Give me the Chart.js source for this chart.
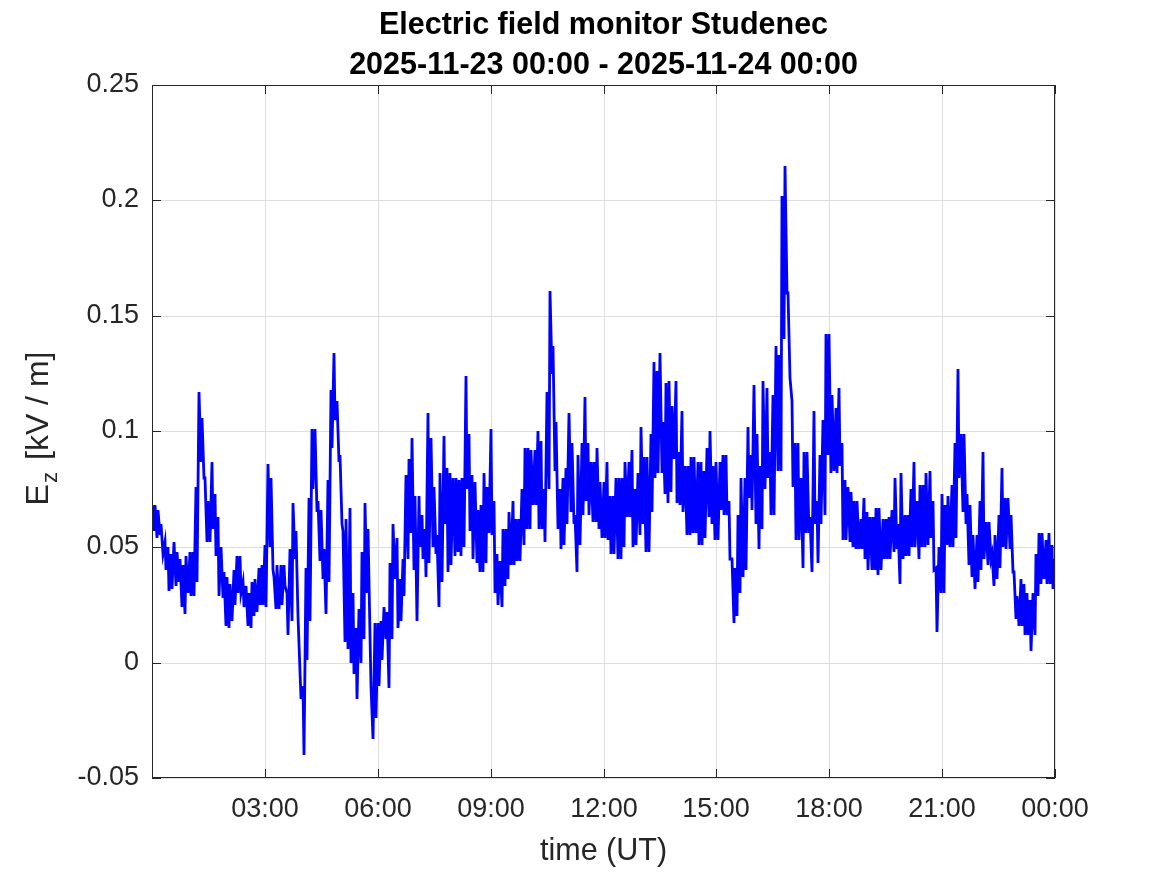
<!DOCTYPE html>
<html><head><meta charset="utf-8">
<script src="https://cdn.jsdelivr.net/npm/chart.js@4/dist/chart.umd.min.js"></script>
<style>html,body{margin:0;padding:0;background:#fff}canvas{display:block}</style>
</head><body>
<canvas id="c" width="1167" height="875"></canvas>
<script>
// ---- data ----
const titleLines = ['Electric field monitor Studenec', '2025-11-23 00:00 - 2025-11-24 00:00'];
const xAxisTitle = 'time (UT)';
const yAxisTitleMain = 'E', yAxisTitleSub = 'z', yAxisTitleRest = ' [kV / m]';
const xTickHours = [0, 3, 6, 9, 12, 15, 18, 21, 24];
const xTickLabels = ['', '03:00', '06:00', '09:00', '12:00', '15:00', '18:00', '21:00', '00:00'];
const yTicks = [-0.05, 0, 0.05, 0.1, 0.15, 0.2, 0.25];
const yTickLabels = ['-0.05', '0', '0.05', '0.1', '0.15', '0.2', '0.25'];
const slotMinutes = 5;   // each slot: high reading at slot start, low reading 2.5 min later
// Ez (kV/m) high / low readings per 5-minute slot, in 3-hour blocks
const hi_00_03 = [0.068,0.068,0.066,0.060,0.052,0.050,0.047,0.052,0.048,0.045,0.042,0.046,0.048,0.048,0.076,0.117,0.106,0.080,0.070,0.087,0.073,0.063,0.050,0.039,0.037,0.034,0.040,0.046,0.046,0.035,0.033,0.030,0.035,0.036,0.041,0.042];
const lo_00_03 = [0.057,0.054,0.055,0.047,0.040,0.031,0.032,0.033,0.035,0.024,0.021,0.030,0.029,0.029,0.035,0.087,0.080,0.052,0.052,0.058,0.046,0.029,0.028,0.016,0.015,0.018,0.025,0.030,0.030,0.024,0.016,0.015,0.020,0.022,0.025,0.025];
const hi_03_06 = [0.051,0.086,0.080,0.037,0.042,0.042,0.042,0.030,0.049,0.069,0.057,0.008,-0.010,0.041,0.071,0.101,0.101,0.070,0.066,0.049,0.079,0.118,0.134,0.113,0.090,0.057,0.062,0.067,0.030,0.015,0.023,0.048,0.069,0.058,-0.010,0.017];
const lo_03_06 = [0.024,0.050,0.040,0.023,0.023,0.025,0.033,0.012,0.018,0.045,0.020,-0.016,-0.040,0.001,0.018,0.075,0.065,0.044,0.036,0.021,0.035,0.093,0.105,0.087,0.060,0.009,0.006,0.000,-0.005,-0.016,0.000,0.010,0.030,0.012,-0.033,-0.024];
const hi_06_09 = [0.017,0.018,0.024,0.022,0.043,0.060,0.054,0.036,0.045,0.081,0.088,0.097,0.072,0.072,0.064,0.058,0.108,0.097,0.076,0.055,0.082,0.098,0.084,0.082,0.080,0.080,0.079,0.080,0.124,0.099,0.081,0.078,0.066,0.068,0.082,0.076];
const lo_06_09 = [-0.010,0.001,0.010,-0.011,0.010,0.036,0.015,0.018,0.029,0.045,0.056,0.040,0.018,0.050,0.045,0.037,0.043,0.050,0.047,0.024,0.035,0.060,0.039,0.042,0.046,0.048,0.046,0.050,0.075,0.057,0.045,0.043,0.039,0.039,0.043,0.056];
const hi_09_12 = [0.101,0.070,0.047,0.044,0.058,0.058,0.065,0.070,0.062,0.062,0.075,0.093,0.093,0.092,0.092,0.100,0.096,0.075,0.117,0.161,0.137,0.104,0.075,0.080,0.084,0.108,0.095,0.064,0.090,0.095,0.115,0.095,0.087,0.087,0.093,0.078];
const lo_09_12 = [0.055,0.030,0.025,0.024,0.033,0.036,0.042,0.042,0.044,0.044,0.051,0.058,0.058,0.068,0.068,0.058,0.058,0.052,0.075,0.125,0.083,0.058,0.049,0.051,0.060,0.065,0.060,0.039,0.051,0.064,0.070,0.064,0.061,0.061,0.058,0.054];
const hi_12_15 = [0.078,0.087,0.072,0.072,0.080,0.080,0.080,0.087,0.087,0.092,0.075,0.082,0.102,0.089,0.089,0.099,0.130,0.126,0.134,0.104,0.121,0.122,0.111,0.122,0.091,0.109,0.085,0.085,0.089,0.089,0.087,0.087,0.083,0.093,0.100,0.085];
const lo_12_15 = [0.054,0.053,0.047,0.047,0.045,0.045,0.050,0.063,0.063,0.050,0.051,0.055,0.060,0.048,0.048,0.065,0.080,0.082,0.082,0.073,0.069,0.074,0.088,0.069,0.068,0.065,0.055,0.055,0.056,0.056,0.051,0.051,0.054,0.063,0.060,0.053];
const hi_15_18 = [0.087,0.087,0.090,0.090,0.070,0.045,0.041,0.064,0.080,0.080,0.102,0.090,0.120,0.099,0.085,0.122,0.119,0.091,0.116,0.137,0.133,0.202,0.215,0.160,0.113,0.095,0.095,0.080,0.091,0.091,0.063,0.109,0.070,0.090,0.105,0.142];
const lo_15_18 = [0.053,0.066,0.064,0.064,0.045,0.017,0.020,0.030,0.037,0.040,0.071,0.066,0.060,0.049,0.058,0.075,0.080,0.064,0.064,0.083,0.083,0.140,0.160,0.123,0.076,0.053,0.053,0.041,0.056,0.056,0.039,0.060,0.043,0.060,0.064,0.090];
const hi_18_21 = [0.142,0.116,0.110,0.119,0.095,0.079,0.076,0.074,0.070,0.070,0.062,0.071,0.065,0.063,0.063,0.067,0.067,0.062,0.062,0.063,0.066,0.080,0.060,0.082,0.064,0.064,0.075,0.087,0.070,0.077,0.077,0.082,0.083,0.070,0.041,0.050];
const lo_18_21 = [0.082,0.083,0.082,0.085,0.053,0.053,0.052,0.050,0.049,0.049,0.049,0.045,0.040,0.040,0.040,0.038,0.040,0.045,0.045,0.045,0.048,0.049,0.034,0.045,0.046,0.046,0.050,0.050,0.045,0.050,0.050,0.051,0.054,0.040,0.013,0.030];
const hi_21_24 = [0.073,0.068,0.072,0.077,0.095,0.127,0.099,0.099,0.073,0.068,0.055,0.055,0.070,0.091,0.061,0.061,0.047,0.055,0.064,0.084,0.071,0.071,0.064,0.039,0.029,0.036,0.034,0.030,0.027,0.030,0.047,0.056,0.056,0.053,0.056,0.051,0.045];
const lo_21_24 = [0.030,0.051,0.050,0.050,0.054,0.080,0.065,0.060,0.042,0.037,0.032,0.035,0.040,0.045,0.042,0.045,0.033,0.036,0.041,0.050,0.049,0.049,0.039,0.019,0.016,0.016,0.012,0.012,0.005,0.012,0.029,0.034,0.036,0.034,0.034,0.032,0.035];

const ezHigh = [].concat(hi_00_03, hi_03_06, hi_06_09, hi_09_12, hi_12_15, hi_15_18, hi_18_21, hi_21_24);
const ezLow  = [].concat(lo_00_03, lo_03_06, lo_06_09, lo_09_12, lo_12_15, lo_15_18, lo_18_21, lo_21_24);
const points = [];
ezHigh.forEach((v, i) => {
  points.push({ x: i * slotMinutes / 60, y: v });
  if (i < ezHigh.length - 1) points.push({ x: (i + 0.5) * slotMinutes / 60, y: ezLow[i] });
});

// ---- style ----
const FONT = '"Liberation Sans", Arial, Helvetica, sans-serif';
const axisColor = '#262626';
const gridColor = '#dedede';
const tickFont = 27, labelFont = 30.5, titleFont = 30.5, yLabelFont = 32;

const decor = {
  id: 'decor',
  beforeDraw(chart) {
    const ctx = chart.ctx;
    ctx.save(); ctx.fillStyle = '#ffffff'; ctx.fillRect(0, 0, chart.width, chart.height); ctx.restore();
  },
  afterDraw(chart) {
    const { ctx, chartArea: a } = chart;
    const xs = chart.scales.x, ys = chart.scales.y;
    ctx.save();
    ctx.strokeStyle = axisColor; ctx.lineWidth = 1;
    ctx.strokeRect(a.left + 0.5, a.top + 0.5, a.right - a.left - 1, a.bottom - a.top - 1);
    const tl = 9;
    ctx.beginPath();
    xTickHours.forEach(h => {
      const px = Math.round(xs.getPixelForValue(h)) + 0.5;
      ctx.moveTo(px, a.bottom); ctx.lineTo(px, a.bottom - tl);
      ctx.moveTo(px, a.top); ctx.lineTo(px, a.top + tl);
    });
    yTicks.forEach(v => {
      const py = Math.round(ys.getPixelForValue(v)) + 0.5;
      ctx.moveTo(a.left, py); ctx.lineTo(a.left + tl, py);
      ctx.moveTo(a.right, py); ctx.lineTo(a.right - tl, py);
    });
    ctx.stroke();

    const cx = (a.left + a.right) / 2;
    ctx.fillStyle = '#000000';
    ctx.textAlign = 'center'; ctx.textBaseline = 'alphabetic';
    ctx.font = 'bold ' + titleFont + 'px ' + FONT;
    ctx.fillText(titleLines[0], cx, 34);
    ctx.fillText(titleLines[1], cx, 74);

    ctx.fillStyle = axisColor;
    ctx.font = labelFont + 'px ' + FONT;
    ctx.fillText(xAxisTitle, cx, 860);

    // y axis title with subscript
    const cy = (a.top + a.bottom) / 2 - 3;
    ctx.translate(48, cy);
    ctx.rotate(-Math.PI / 2);
    ctx.textAlign = 'left';
    const mainF = yLabelFont + 'px ' + FONT, subF = (yLabelFont * 0.7) + 'px ' + FONT;
    ctx.font = mainF; const wE = ctx.measureText(yAxisTitleMain).width; const wR = ctx.measureText(yAxisTitleRest).width;
    ctx.font = subF; const wZ = ctx.measureText(yAxisTitleSub).width;
    const g1 = 1, g2 = 3;
    const start = -(wE + g1 + wZ + g2 + wR) / 2;
    ctx.font = mainF; ctx.fillText(yAxisTitleMain, start, 0);
    ctx.font = subF; ctx.fillText(yAxisTitleSub, start + wE + g1, yLabelFont * 0.28);
    ctx.font = mainF; ctx.fillText(yAxisTitleRest, start + wE + g1 + wZ + g2, 0);
    ctx.restore();
  }
};

new Chart(document.getElementById('c'), {
  type: 'line',
  data: { datasets: [{
    data: points, borderColor: '#0000ff', borderWidth: 2.8, pointRadius: 0,
    tension: 0, fill: false, borderJoinStyle: 'miter'
  }]},
  options: {
    responsive: false, animation: false, devicePixelRatio: 1,
    layout: { padding: { left: 0, top: 85, right: 112, bottom: 0 } },
    plugins: { legend: { display: false }, title: { display: false }, tooltip: { enabled: false } },
    scales: {
      x: {
        type: 'linear', min: 0, max: 24, alignToPixels: true,
        afterFit(s) { s.height = 97; },
        afterBuildTicks(s) { s.ticks = xTickHours.map(v => ({ value: v })); },
        grid: { color: gridColor, lineWidth: 1, drawTicks: false },
        border: { display: false },
        ticks: {
          autoSkip: false, maxRotation: 0, padding: 15, color: axisColor,
          font: { family: FONT, size: tickFont },
          callback: (v) => { const i = xTickHours.indexOf(v); return i >= 0 ? xTickLabels[i] : ''; }
        }
      },
      y: {
        type: 'linear', min: -0.05, max: 0.25, alignToPixels: true,
        afterFit(s) { s.width = 152; },
        afterBuildTicks(s) { s.ticks = yTicks.map(v => ({ value: v })); },
        grid: { color: gridColor, lineWidth: 1, drawTicks: false },
        border: { display: false },
        ticks: {
          autoSkip: false, padding: 13, color: axisColor,
          font: { family: FONT, size: tickFont },
          callback: (v) => { const i = yTicks.findIndex(t => Math.abs(t - v) < 1e-9); return i >= 0 ? yTickLabels[i] : ''; }
        }
      }
    }
  },
  plugins: [decor]
});
</script>
</body></html>
